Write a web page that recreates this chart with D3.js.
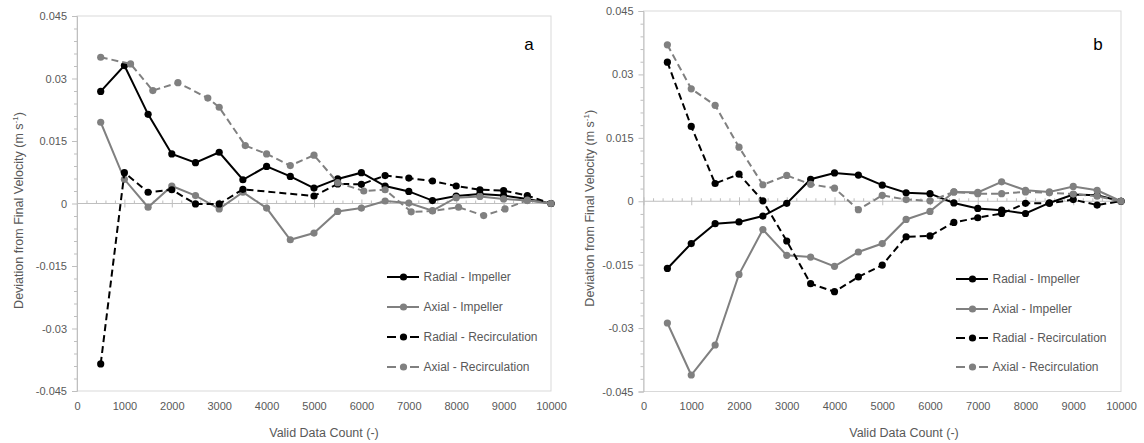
<!DOCTYPE html>
<html><head><meta charset="utf-8">
<script src="https://cdn.jsdelivr.net/npm/d3@7"></script>
<style>body{margin:0;background:#fff}svg{display:block}text{font-family:"Liberation Sans",Arial,sans-serif}</style>
</head><body><svg id="c" width="1144" height="443"></svg>
<script>
// ---- data ----
const counts = [500,1000,1500,2000,2500,3000,3500,4000,4500,5000,5500,6000,6500,7000,7500,8000,8500,9000,9500,10000];
const seriesNames = ["Radial - Impeller","Axial - Impeller","Radial - Recirculation","Axial - Recirculation"];
const yTickValues = [0.045,0.03,0.015,0,-0.015,-0.03,-0.045];
const yTickLabels = ["0.045","0.03","0.015","0","-0.015","-0.03","-0.045"];
const xTickValues = [0,1000,2000,3000,4000,5000,6000,7000,8000,9000,10000];
const xTickLabels = ["0","1000","2000","3000","4000","5000","6000","7000","8000","9000","10000"];

// panel a
const aRadialImpeller = [0.0269,0.0331,0.0214,0.0119,0.0098,0.0123,0.0057,0.0089,0.0065,0.0037,0.0059,0.0074,0.0042,0.0029,0.0007,0.0018,0.0023,0.0019,0.0011,0];
const aAxialImpeller  = [0.0195,0.0058,-0.0009,0.0042,0.0019,-0.0013,0.0027,-0.0011,-0.0087,-0.0071,-0.0019,-0.0011,0.0006,0.0001,-0.0017,0.0014,0.0017,0.0011,0.0007,0];
const aRadialRecirc   = [-0.0385,0.0074,0.0027,0.0033,-0.0001,-0.0001,0.0034,null,null,0.0018,0.0047,0.0046,0.0067,0.0061,0.0054,0.0042,0.0033,0.0031,0.0019,0];
const aAxialRecircX   = [500,1130,1600,2130,2760,3000,3550,4000,4500,5000,5500,6050,6500,7050,7500,8050,8580,9030,9500,10000];
const aAxialRecirc    = [0.0351,0.0335,0.0271,0.029,0.0253,0.0231,0.0139,0.0119,0.0091,0.0116,0.005,0.003,0.0033,-0.002,-0.0018,-0.0009,-0.0029,-0.0013,0.0008,0];

// panel b
const bRadialImpeller = [-0.0159,-0.0100,-0.0053,-0.0049,-0.0035,-0.0005,0.0052,0.0067,0.0062,0.0038,0.0020,0.0018,-0.0004,-0.0017,-0.0021,-0.0029,-0.0004,0.0016,0.0014,0];
const bAxialImpeller  = [-0.0288,-0.0411,-0.0340,-0.0173,-0.0067,-0.0128,-0.0132,-0.0154,-0.0120,-0.0100,-0.0043,-0.0024,0.0022,0.0021,0.0046,0.0026,0.0022,0.0035,0.0026,0];
const bRadialRecirc   = [0.0329,0.0177,0.0042,0.0064,0.0001,-0.0094,-0.0195,-0.0214,-0.0179,-0.0151,-0.0084,-0.0082,-0.0050,-0.0039,-0.0029,-0.0005,-0.0005,0.0004,-0.0009,0];
const bAxialRecirc    = [0.0370,0.0266,0.0227,0.0128,0.0039,0.0061,0.0040,0.0031,-0.0020,0.0014,0.0004,0.0001,0.0022,0.0018,0.0018,0.0022,0.0020,0.0017,0.0012,0];

// ---- drawing ----
const svg = d3.select("#c");
const styles = [
  {color:"#000000", dash:null},
  {color:"#808080", dash:null},
  {color:"#000000", dash:"7,4"},
  {color:"#808080", dash:"7,4"}
];
const axisGray = "#bfbfbf", textGray = "#595959";
const FONT = "Liberation Sans, Arial, sans-serif";

const panels = [
  {label:"a", l:77, r:551, t:16, b:391, yTitleX:19, xTitleX:324, labelX:529, legX:387, legY:[277,307,337,367],
   series:[
     {x:counts, y:aRadialImpeller},{x:counts, y:aAxialImpeller},{x:counts, y:aRadialRecirc},{x:aAxialRecircX, y:aAxialRecirc}]},
  {label:"b", l:643.5, r:1121, t:11, b:391.5, yTitleX:590, xTitleX:904, labelX:1098, legX:956, legY:[279,309,338,367],
   series:[
     {x:counts, y:bRadialImpeller},{x:counts, y:bAxialImpeller},{x:counts, y:bRadialRecirc},{x:counts, y:bAxialRecirc}]}
];

panels.forEach(p => {
  const g = svg.append("g");
  const x = d3.scaleLinear().domain([0,10000]).range([p.l,p.r]);
  const y = d3.scaleLinear().domain([-0.045,0.045]).range([p.b,p.t]);

  // plot area border
  g.append("rect").attr("x",p.l).attr("y",p.t).attr("width",p.r-p.l).attr("height",p.b-p.t)
    .attr("fill","none").attr("stroke","#d9d9d9").attr("stroke-width",1);

  // y axis
  const yAxis = d3.axisLeft(y).tickValues(yTickValues).tickFormat((d,i)=>yTickLabels[i]).tickSize(5).tickPadding(5);
  const ya = g.append("g").attr("transform",`translate(${p.l},0)`).call(yAxis);
  ya.select(".domain").attr("stroke",axisGray);
  ya.selectAll(".tick line").attr("stroke",axisGray);
  ya.selectAll(".tick text").attr("fill",textGray).attr("font-size",11).attr("font-family",FONT);
  const yMinor = d3.range(-15,16).map(k=>k*0.003).filter(v=>Math.abs(Math.round(v/0.015)*0.015 - v) > 1e-9);
  const ym = g.append("g").attr("transform",`translate(${p.l},0)`).call(d3.axisLeft(y).tickValues(yMinor).tickFormat("").tickSize(3));
  ym.select(".domain").remove();
  ym.selectAll(".tick line").attr("stroke",axisGray);

  // x axis along zero line
  const y0 = y(0);
  const xMinor = d3.range(0,10001,200).filter(v=>v%1000!==0);
  const xm = g.append("g").attr("transform",`translate(0,${y0})`).call(d3.axisTop(x).tickValues(xMinor).tickFormat("").tickSize(3));
  xm.select(".domain").remove();
  xm.selectAll(".tick line").attr("stroke",axisGray);
  const xj = g.append("g").attr("transform",`translate(0,${y0+4})`).call(d3.axisTop(x).tickValues(xTickValues).tickFormat("").tickSize(8));
  xj.select(".domain").remove();
  xj.selectAll(".tick line").attr("stroke",axisGray);
  g.append("line").attr("x1",p.l).attr("x2",p.r).attr("y1",y0).attr("y2",y0).attr("stroke",axisGray);

  // x tick labels at bottom
  const xl = g.append("g").attr("transform",`translate(0,${p.b})`)
    .call(d3.axisBottom(x).tickValues(xTickValues).tickFormat((d,i)=>xTickLabels[i]).tickSize(0).tickPadding(11));
  xl.select(".domain").remove();
  xl.selectAll(".tick text").attr("fill",textGray).attr("font-size",11).attr("font-family",FONT);

  // titles
  const yt = g.append("text").attr("transform",`translate(${p.yTitleX},${(p.t+p.b)/2+7}) rotate(-90)`)
    .attr("text-anchor","middle").attr("dominant-baseline","central").attr("fill",textGray).attr("font-size",12.5);
  yt.append("tspan").text("Deviation from Final Velocity (m s");
  yt.append("tspan").attr("dy",-4).attr("font-size",8).text("-1");
  yt.append("tspan").attr("dy",4).text(")");
  g.append("text").attr("x",p.xTitleX).attr("y",437).attr("text-anchor","middle").attr("fill",textGray).attr("font-size",12.5)
    .text("Valid Data Count (-)");
  g.append("text").attr("x",p.labelX).attr("y",44).attr("text-anchor","middle").attr("dominant-baseline","central")
    .attr("fill","#000").attr("font-size",17).text(p.label);

  // series
  p.series.forEach((s,i) => {
    const st = styles[i];
    const pts = s.y.map((v,k)=>({x:s.x[k], y:v})).filter(d=>d.y!==null);
    const line = d3.line().x(d=>x(d.x)).y(d=>y(d.y));
    g.append("path").datum(pts).attr("d",line).attr("fill","none").attr("stroke",st.color)
      .attr("stroke-width",2).attr("stroke-dasharray",st.dash);
    g.selectAll(null).data(pts).enter().append("circle")
      .attr("cx",d=>x(d.x)).attr("cy",d=>y(d.y)).attr("r",3.6).attr("fill",st.color);
  });

  // legend
  seriesNames.forEach((name,i) => {
    const st = styles[i];
    const ly = p.legY[i];
    const lg = g.append("g");
    if (st.dash) {
      lg.append("line").attr("x1",p.legX).attr("x2",p.legX+9).attr("y1",ly).attr("y2",ly).attr("stroke",st.color).attr("stroke-width",2);
      lg.append("line").attr("x1",p.legX+23).attr("x2",p.legX+32).attr("y1",ly).attr("y2",ly).attr("stroke",st.color).attr("stroke-width",2);
    } else {
      lg.append("line").attr("x1",p.legX).attr("x2",p.legX+32).attr("y1",ly).attr("y2",ly).attr("stroke",st.color).attr("stroke-width",2);
    }
    lg.append("circle").attr("cx",p.legX+16.5).attr("cy",ly).attr("r",3.6).attr("fill",st.color);
    lg.append("text").attr("x",p.legX+36.5).attr("y",ly).attr("dominant-baseline","central").attr("fill",textGray)
      .attr("font-size",12).text(name);
  });
});
</script></body></html>
